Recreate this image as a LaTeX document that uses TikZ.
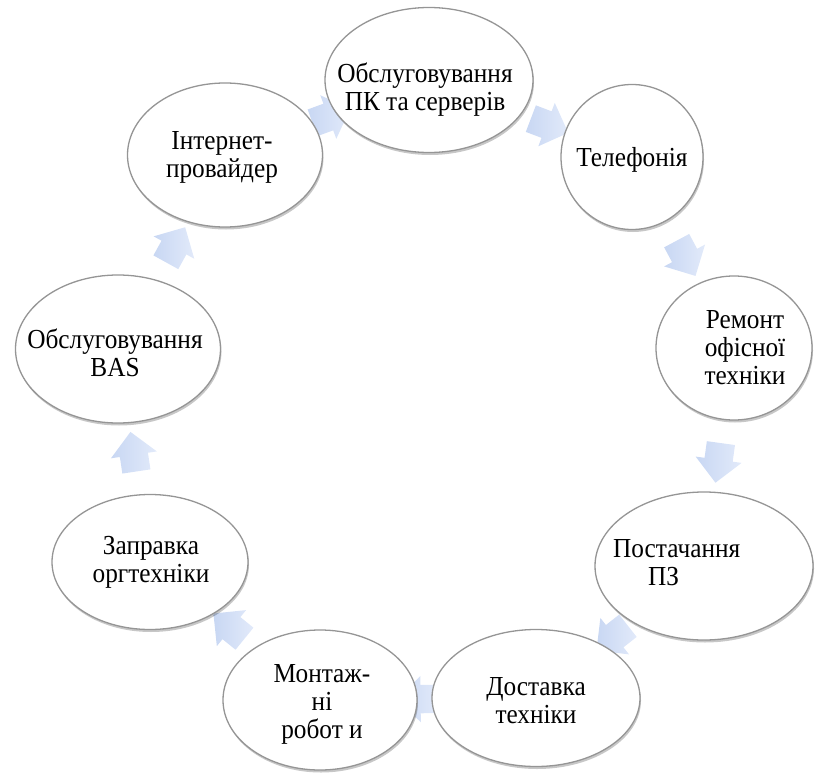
\documentclass[tikz,border=0pt]{standalone}
\usepackage{fontspec}
\setmainfont{Liberation Serif}
% slightly narrowed serif for the bubble captions
\newfontfamily\capfont[FakeStretch=0.92]{Liberation Serif}
\usetikzlibrary{shapes.geometric,shapes.arrows,shadows,backgrounds}
\definecolor{rimgray}{HTML}{959595}
\definecolor{flowA}{HTML}{C8D7F3}
\definecolor{flowB}{HTML}{E2EAFA}
\begin{document}
\begin{tikzpicture}[x=1pt,y=-1pt,
  bubble/.style={ellipse, draw=rimgray, line width=1.3pt, fill=white, inner sep=0pt,
    drop shadow={shadow xshift=1pt, shadow yshift=-2.5pt, opacity=0.22, fill=black}},
  caption/.style={inner sep=0pt, align=center, font=\capfont\fontsize{27.5}{28}\selectfont},
  flow/.style={single arrow, single arrow head extend=9pt, inner xsep=0pt, inner ysep=14pt,
    minimum height=40pt, sloped, allow upside down, draw=none,
    left color=flowA, right color=flowB}]
\useasboundingbox (0,0) rectangle (816,773);

% service bubbles
\node[bubble, minimum width=208pt, minimum height=145pt] (pc)   at (429,80)  {};
\node[bubble, minimum width=142pt, minimum height=145pt] (tel)  at (632,157) {};
\node[bubble, minimum width=156pt, minimum height=144pt] (rem)  at (734,348) {};
\node[bubble, minimum width=218pt, minimum height=148pt] (post) at (704,566) {};
\node[bubble, minimum width=208pt, minimum height=137pt] (dost) at (536,698) {};
\node[bubble, minimum width=194pt, minimum height=140pt] (mont) at (320,700) {};
\node[bubble, minimum width=196pt, minimum height=135pt] (zapr) at (150,562) {};
\node[bubble, minimum width=205pt, minimum height=148pt] (bas)  at (118,349) {};
\node[bubble, minimum width=195pt, minimum height=144pt] (inet) at (225,155) {};

% captions
\node[caption] (pc-t)   at (425,90)  {Обслуговування\\ПК та серверів};
\node[caption] (tel-t)  at (632,160) {Телефонія};
\node[caption] (rem-t)  at (745,348) {Ремонт\\офісної\\техніки};
\node[caption, anchor=west, align=left] (post-t) at (613,563) {Постачання\\\hspace*{35pt}ПЗ};
\node[caption] (dost-t) at (536,701) {Доставка\\техніки};
\node[caption] (mont-t) at (322,704) {Монтаж-\\ні\\робот и};
\node[caption] (zapr-t) at (151,562) {Заправка\\оргтехніки};
\node[caption] (bas-t)  at (115,353) {Обслуговування\\BAS};
\node[caption] (inet-t) at (222,157) {Інтернет-\\провайдер};

% block arrows around the cycle, behind the bubbles
\begin{scope}[on background layer]
\path (inet) -- node[flow] (a1) {} (pc);
\path (pc)   -- node[flow] (a2) {} (tel);
\path (tel)  -- node[flow] (a3) {} (rem);
\path (rem)  -- node[flow] (a4) {} (post);
\path (post) -- node[flow] (a5) {} (dost);
\path (dost) -- node[flow] (a6) {} (mont);
\path (mont) -- node[flow] (a7) {} (zapr);
\path (zapr) -- node[flow] (a8) {} (bas);
\path (bas)  -- node[flow] (a9) {} (inet);
\end{scope}
\end{tikzpicture}
\end{document}
